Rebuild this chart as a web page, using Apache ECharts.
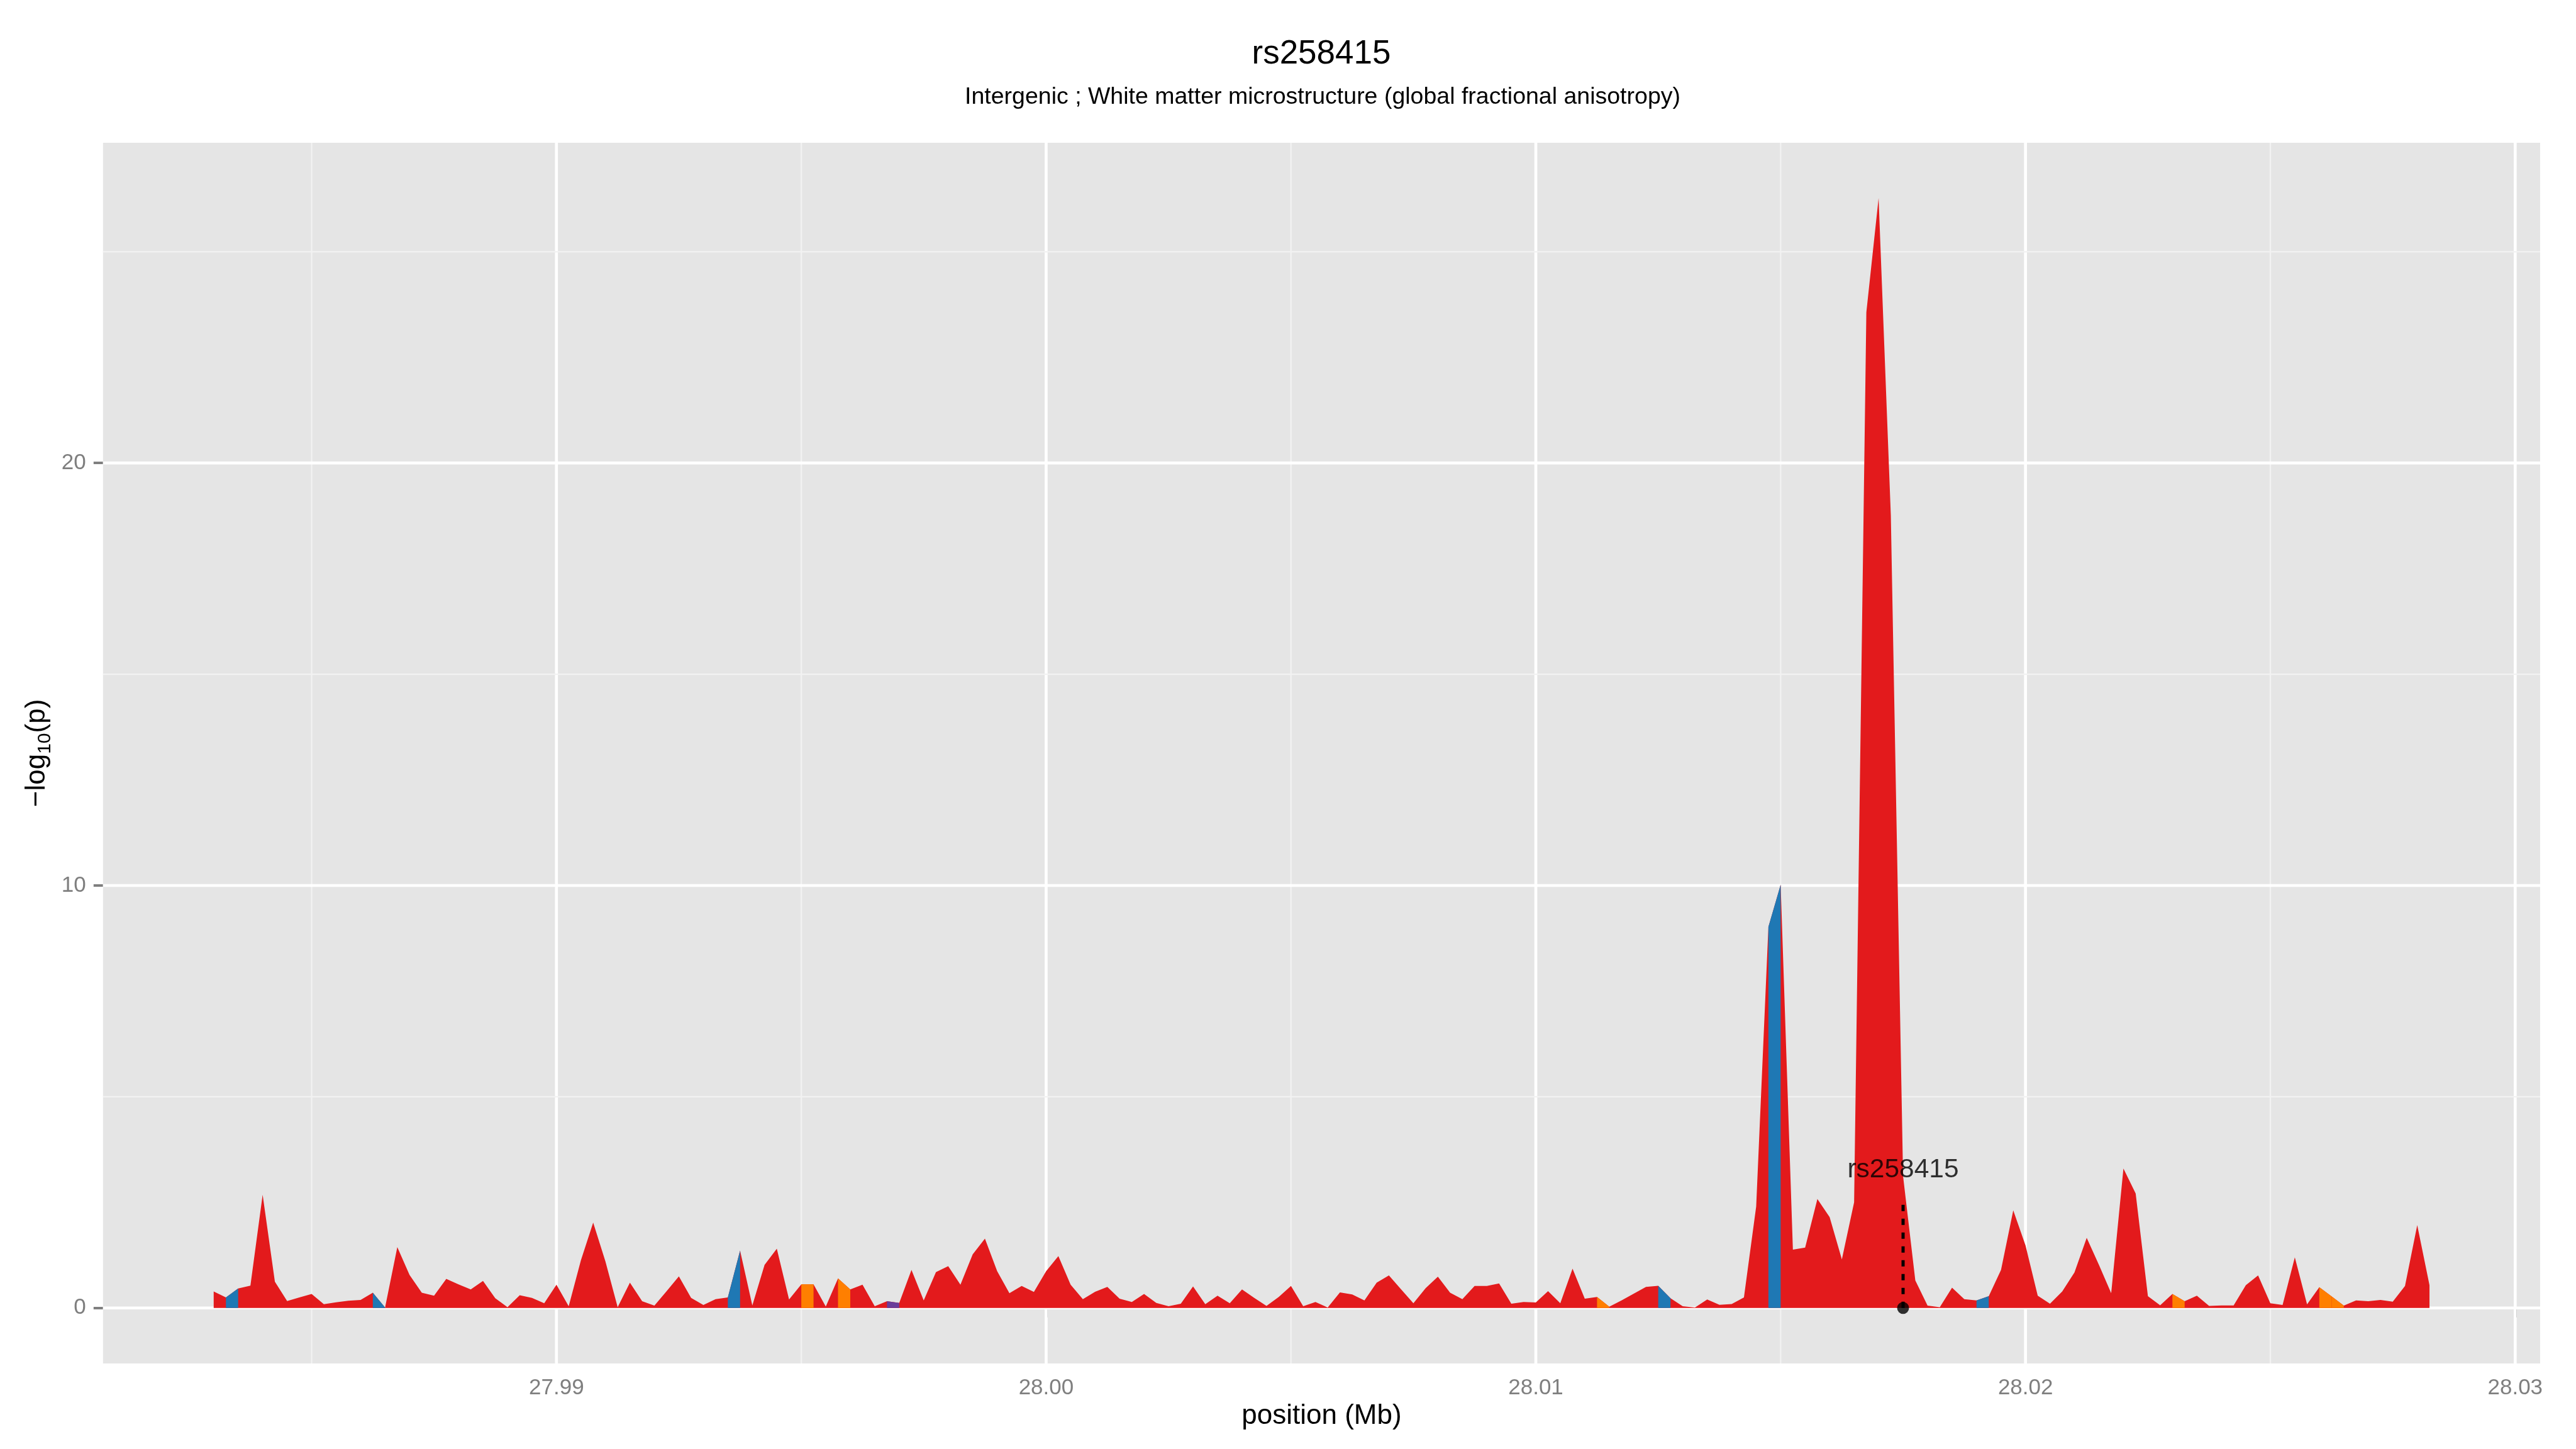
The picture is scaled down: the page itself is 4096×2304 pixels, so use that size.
<!DOCTYPE html>
<html>
<head>
<meta charset="utf-8">
<title>rs258415</title>
<script src="https://cdn.jsdelivr.net/npm/echarts@6/dist/echarts.min.js"></script>
<style>
  html, body { margin: 0; padding: 0; background: #ffffff; }
  #chart { width: 4096px; height: 2304px; }
</style>
</head>
<body>
<div id="chart"></div>
<script>
// positions (Mb) of the association results
var positions = [
  27.983, 27.98325, 27.9835, 27.98375, 27.984, 27.98425, 27.9845, 27.98475,
  27.985, 27.98525, 27.9855, 27.98575, 27.986, 27.98625, 27.9865, 27.98675,
  27.987, 27.98725, 27.9875, 27.98775, 27.988, 27.98825, 27.9885, 27.98875,
  27.989, 27.98925, 27.9895, 27.98975, 27.99, 27.99025, 27.9905, 27.99075,
  27.991, 27.99125, 27.9915, 27.99175, 27.992, 27.99225, 27.9925, 27.99275,
  27.993, 27.99325, 27.9935, 27.99375, 27.994, 27.99425, 27.9945, 27.99475,
  27.995, 27.99525, 27.9955, 27.99575, 27.996, 27.99625, 27.9965, 27.99675,
  27.997, 27.99725, 27.9975, 27.99775, 27.998, 27.99825, 27.9985, 27.99875,
  27.999, 27.99925, 27.9995, 27.99975, 28.0, 28.00025, 28.0005, 28.00075,
  28.001, 28.00125, 28.0015, 28.00175, 28.002, 28.00225, 28.0025, 28.00275,
  28.003, 28.00325, 28.0035, 28.00375, 28.004, 28.00425, 28.0045, 28.00475,
  28.005, 28.00525, 28.0055, 28.00575, 28.006, 28.00625, 28.0065, 28.00675,
  28.007, 28.00725, 28.0075, 28.00775, 28.008, 28.00825, 28.0085, 28.00875,
  28.009, 28.00925, 28.0095, 28.00975, 28.01, 28.01025, 28.0105, 28.01075,
  28.011, 28.01125, 28.0115, 28.01175, 28.012, 28.01225, 28.0125, 28.01275,
  28.013, 28.01325, 28.0135, 28.01375, 28.014, 28.01425, 28.0145, 28.01475,
  28.015, 28.01525, 28.0155, 28.01575, 28.016, 28.01625, 28.0165, 28.01675,
  28.017, 28.01725, 28.0175, 28.01775, 28.018, 28.01825, 28.0185, 28.01875,
  28.019, 28.01925, 28.0195, 28.01975, 28.02, 28.02025, 28.0205, 28.02075,
  28.021, 28.02125, 28.0215, 28.02175, 28.022, 28.02225, 28.0225, 28.02275,
  28.023, 28.02325, 28.0235, 28.02375, 28.024, 28.02425, 28.0245, 28.02475,
  28.025, 28.02525, 28.0255, 28.02575, 28.026, 28.02625, 28.0265, 28.02675,
  28.027, 28.02725, 28.0275, 28.02775, 28.028, 28.02825
];

// -log10(p) at each position
var logP = [
  0.39, 0.25, 0.46, 0.53, 2.68, 0.62, 0.165, 0.25,
  0.33, 0.09, 0.135, 0.17, 0.19, 0.36, 0.01, 1.44,
  0.78, 0.36, 0.29, 0.69, 0.56, 0.44, 0.64, 0.23,
  0.02, 0.30, 0.24, 0.11, 0.55, 0.04, 1.13, 2.02,
  1.10, 0.02, 0.60, 0.16, 0.055, 0.40, 0.75, 0.24,
  0.07, 0.21, 0.25, 1.36, 0.06, 1.02, 1.405, 0.20,
  0.56, 0.56, 0.034, 0.70, 0.44, 0.55, 0.04, 0.16,
  0.12, 0.90, 0.18, 0.85, 0.99, 0.55, 1.27, 1.64,
  0.87, 0.35, 0.52, 0.38, 0.87, 1.23, 0.55, 0.21,
  0.385, 0.50, 0.22, 0.14, 0.33, 0.12, 0.04, 0.10,
  0.51, 0.09, 0.29, 0.11, 0.44, 0.24, 0.05, 0.26,
  0.52, 0.04, 0.14, 0.01, 0.37, 0.32, 0.18, 0.60,
  0.77, 0.44, 0.11, 0.47, 0.74, 0.36, 0.21, 0.52,
  0.52, 0.58, 0.10, 0.14, 0.13, 0.40, 0.11, 0.93,
  0.22, 0.26, 0.03, 0.18, 0.34, 0.50, 0.525, 0.23,
  0.04, 0.013, 0.20, 0.076, 0.093, 0.25, 2.40, 9.02,
  10.02, 1.38, 1.43, 2.58, 2.15, 1.15, 2.50, 23.57,
  26.27, 18.76, 3.12, 0.65, 0.055, 0.02, 0.48, 0.21,
  0.18, 0.28, 0.90, 2.31, 1.48, 0.29, 0.10, 0.39,
  0.84, 1.66, 1.02, 0.35, 3.30, 2.71, 0.28, 0.065,
  0.33, 0.16, 0.29, 0.05, 0.06, 0.06, 0.54, 0.77,
  0.11, 0.07, 1.20, 0.085, 0.49, 0.275, 0.055, 0.18,
  0.16, 0.19, 0.15, 0.52, 1.96, 0.54
];

// segments (start index -> next point) that are not red
var blueSegments = [1, 13, 42, 118, 127, 144];
var orangeSegments = [48, 51, 113, 160, 172, 173];
var purpleSegments = [55];

var xTicks = [27.99, 28.00, 28.01, 28.02, 28.03];
var xMinorTicks = [27.985, 27.995, 28.005, 28.015, 28.025];
var yTicks = [0, 10, 20];
var yMinorTicks = [5, 15, 25];

var leadSnp = 'rs258415';
var leadSnpPos = 28.0175;
var leadSnpLineTop = 2.62;
var leadSnpLabelY = 3.27;

var xMin = 27.98074, xMax = 28.03051;
var yMin = -1.3135, yMax = 27.58;

var FONT = "'Liberation Sans', Arial, Helvetica, sans-serif";
var RED = '#E31A1C';
var segColors = ['#1F78B4', '#FF7F00', '#6A3D9A'];

var chart = echarts.init(document.getElementById('chart'));

var segmentData = [];
[blueSegments, orangeSegments, purpleSegments].forEach(function (list, c) {
    list.forEach(function (i) {
        segmentData.push([positions[i], logP[i], positions[i + 1], logP[i + 1], c]);
    });
});

var gridData = [];
xTicks.forEach(function (v) { gridData.push([v, 0, 0, 1]); });
xMinorTicks.forEach(function (v) { gridData.push([v, 0, 0, 0]); });
yTicks.forEach(function (v) { gridData.push([xMin, v, 1, 1]); });
yMinorTicks.forEach(function (v) { gridData.push([xMin, v, 1, 0]); });

function renderGridLine(params, api) {
    var cs = params.coordSys;
    var p = api.coord([api.value(0), api.value(1)]);
    var major = api.value(3) === 1;
    var shape = api.value(2) === 0
        ? { x1: p[0], y1: cs.y, x2: p[0], y2: cs.y + cs.height }
        : { x1: cs.x, y1: p[1], x2: cs.x + cs.width, y2: p[1] };
    return {
        type: 'line',
        shape: shape,
        style: { stroke: major ? '#FFFFFF' : '#F2F2F2', lineWidth: major ? 4.7 : 2.3 }
    };
}

function renderSegment(params, api) {
    var x0 = api.value(0), y0 = api.value(1), x1 = api.value(2), y1 = api.value(3);
    return {
        type: 'polygon',
        shape: { points: [api.coord([x0, 0]), api.coord([x0, y0]), api.coord([x1, y1]), api.coord([x1, 0])] },
        style: { fill: segColors[api.value(4)] }
    };
}

var option = {
    animation: false,
    backgroundColor: '#FFFFFF',
    grid: {
        left: 163.8,
        right: 57,
        top: 227,
        bottom: 136,
        show: true,
        backgroundColor: '#E5E5E5',
        borderWidth: 0
    },
    graphic: [
        {
            type: 'text', x: 2101, y: 86,
            style: { text: 'rs258415', fontSize: 53, fontFamily: FONT, fill: '#000000', align: 'center', verticalAlign: 'middle' }
        },
        {
            type: 'text', x: 2103, y: 155,
            style: { text: 'Intergenic ; White matter microstructure (global fractional anisotropy)', fontSize: 37.5, fontFamily: FONT, fill: '#000000', align: 'center', verticalAlign: 'middle' }
        }
    ],
    xAxis: {
        type: 'value',
        min: xMin,
        max: xMax,
        name: 'position (Mb)',
        nameLocation: 'middle',
        nameGap: 59,
        nameTextStyle: { fontSize: 44, fontFamily: FONT, color: '#000000' },
        axisLine: { show: false },
        axisTick: { show: true, length: 15, customValues: xTicks, lineStyle: { color: '#7F7F7F', width: 4 } },
        axisLabel: {
            customValues: xTicks,
            formatter: function (v) { return v.toFixed(2); },
            color: '#7F7F7F', fontSize: 35, fontFamily: FONT, margin: 22
        },
        splitLine: { show: false }
    },
    yAxis: {
        type: 'value',
        min: yMin,
        max: yMax,
        name: '\u2212log{sub|10}(p)',
        nameLocation: 'middle',
        nameGap: 72,
        nameTextStyle: {
            fontSize: 44, fontFamily: FONT, color: '#000000',
            rich: { sub: { fontSize: 30, fontFamily: FONT, color: '#000000', padding: [27, 0, 0, 0] } }
        },
        axisLine: { show: false },
        axisTick: { show: true, length: 15, customValues: yTicks, lineStyle: { color: '#7F7F7F', width: 4 } },
        axisLabel: { customValues: yTicks, color: '#7F7F7F', fontSize: 35, fontFamily: FONT, margin: 27 },
        splitLine: { show: false }
    },
    series: [
        {
            type: 'custom',
            name: 'grid',
            z: 1,
            silent: true,
            renderItem: renderGridLine,
            data: gridData
        },
        {
            type: 'line',
            name: 'association',
            z: 2,
            silent: true,
            showSymbol: false,
            symbol: 'none',
            data: positions.map(function (p, i) { return [p, logP[i]]; }),
            lineStyle: { width: 0 },
            itemStyle: { color: RED },
            areaStyle: { color: RED, opacity: 1 }
        },
        {
            type: 'custom',
            name: 'segments',
            z: 3,
            silent: true,
            renderItem: renderSegment,
            encode: { x: [0, 2], y: [1, 3] },
            data: segmentData
        },
        {
            type: 'line',
            name: 'lead line',
            z: 4,
            silent: true,
            symbol: 'none',
            data: [[leadSnpPos, 0], [leadSnpPos, leadSnpLineTop]],
            lineStyle: { color: '#000000', width: 5, type: [10, 12] }
        },
        {
            type: 'scatter',
            name: 'lead point',
            z: 5,
            silent: true,
            symbolSize: 19,
            itemStyle: { color: '#000000' },
            data: [[leadSnpPos, 0]]
        },
        {
            type: 'scatter',
            name: 'lead label',
            z: 6,
            silent: true,
            symbolSize: 0,
            data: [[leadSnpPos, leadSnpLabelY]],
            label: {
                show: true,
                position: 'inside',
                formatter: leadSnp,
                color: '#000000',
                fontSize: 42.5,
                fontFamily: FONT
            }
        }
    ]
};

chart.setOption(option);
window.addEventListener('resize', function () { chart.resize(); });
</script>
</body>
</html>
